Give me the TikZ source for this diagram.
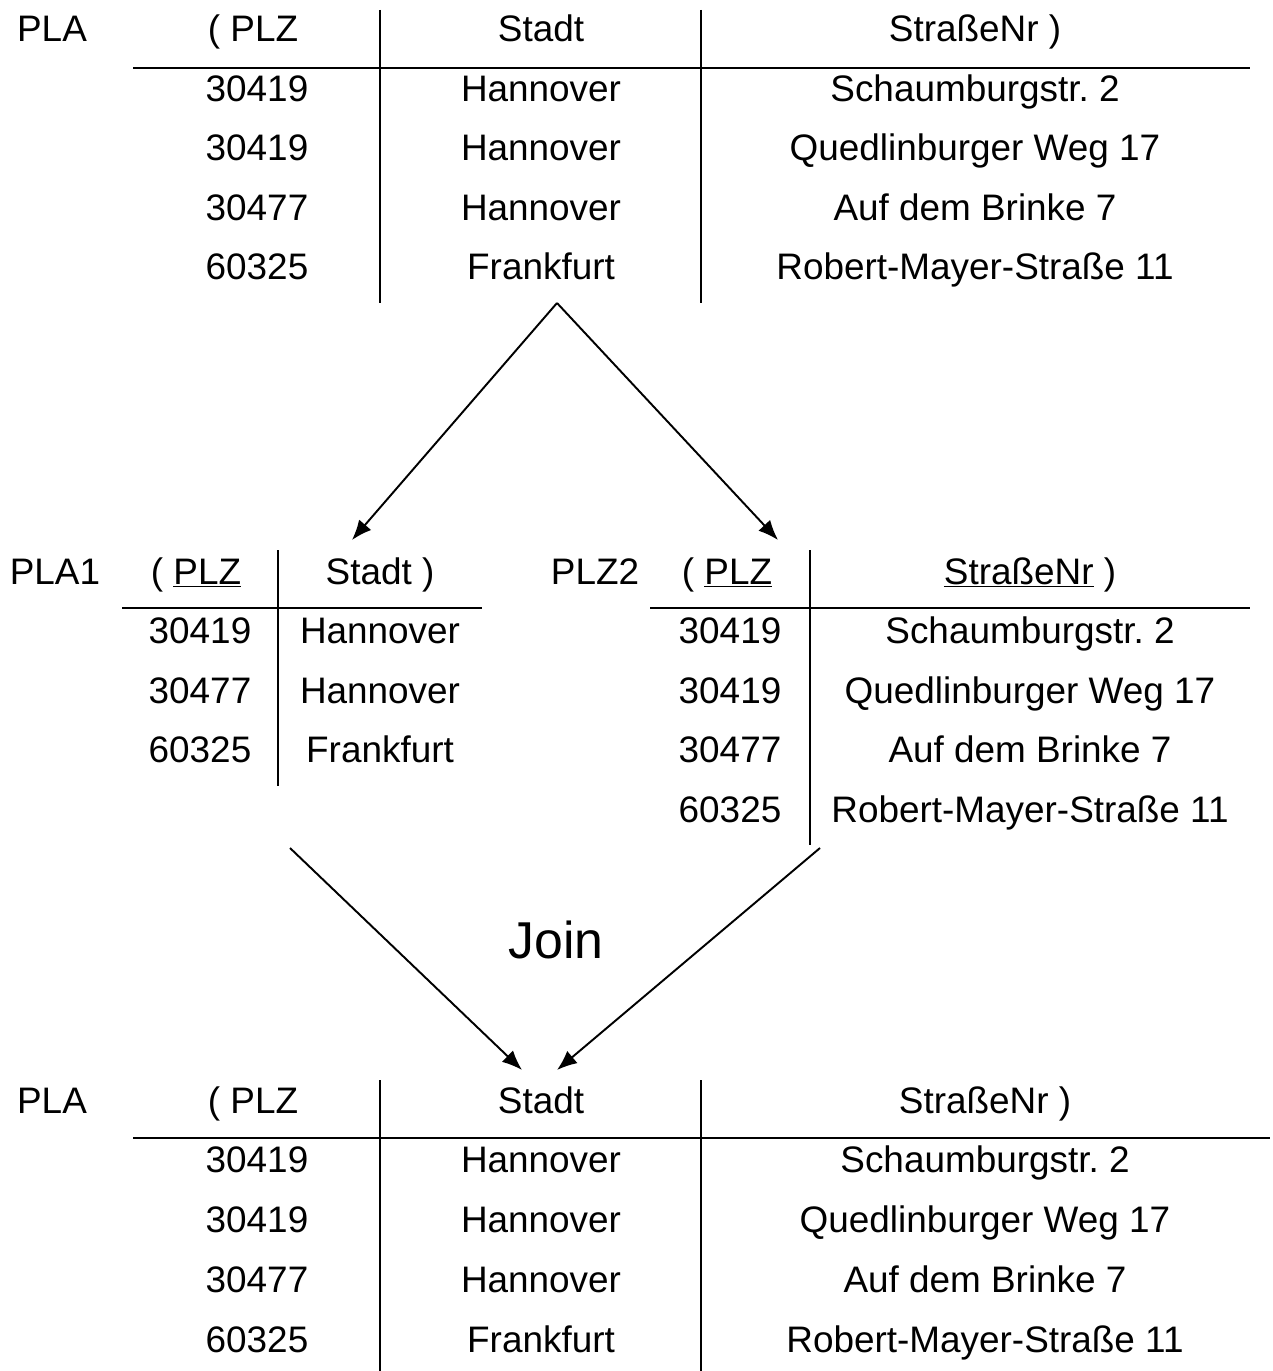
\documentclass[tikz,border=0pt]{standalone}
\usepackage{fontspec}
\setmainfont{Liberation Sans}
\frenchspacing
\usetikzlibrary{arrows.meta,positioning}
\tikzset{cell node/.style={inner sep=0pt, anchor=base, font=\fontsize{21}{25}\selectfont}}
\tikzset{join node/.style={cell node, font=\fontsize{29.5}{34}\selectfont}}
\tikzset{rule line/.style={draw=black, line width=1.2pt}}
\tikzset{flow edge/.style={draw=black, line width=1.1pt, -{Latex[length=4mm,width=3.2mm]}}}

\begin{document}
\begin{tikzpicture}[x=0.02cm, y=-0.02cm]
  \useasboundingbox (0,0) rectangle (1272,1371);

  % Relation PLA (oben)
  \node [cell node] (plaTop)   at (52,42)  {PLA};
  \node [cell node] (topHead1) at (253,42) {( PLZ};
  \node [cell node] (topHead2) at (541,42) {Stadt};
  \node [cell node] (topHead3) at (975,42) {StraßeNr )};
  \foreach \plz/\stadt/\strasse [count=\i] in {30419/Hannover/Schaumburgstr. 2,
      30419/Hannover/Quedlinburger Weg 17, 30477/Hannover/Auf dem Brinke 7,
      60325/Frankfurt/Robert-Mayer-Straße 11} {
    \node [cell node] (top\i a) at (257,{42+59.5*\i}) {\plz};
    \node [cell node] (top\i b) at (541,{42+59.5*\i}) {\stadt};
    \node [cell node] (top\i c) at (975,{42+59.5*\i}) {\strasse};
  }
  \draw [rule line] (133,68) -- (1250,68);
  \draw [rule line] (380,10) -- (380,303);
  \draw [rule line] (701,10) -- (701,303);

  % Zerlegung
  \coordinate (split)  at (557,303);
  \coordinate (pla1In) at (352,540);
  \coordinate (plz2In) at (778,540);
  \draw [flow edge] (split) -- (pla1In);
  \draw [flow edge] (split) -- (plz2In);

  % Relation PLA1
  \node [cell node] (pla1)     at (55,584)  {PLA1};
  \node [cell node] (pla1Head1) at (196,584) {( \underline{PLZ}};
  \node [cell node] (pla1Head2) at (380,584) {Stadt )};
  \foreach \plz/\stadt [count=\i] in {30419/Hannover, 30477/Hannover, 60325/Frankfurt} {
    \node [cell node] (pla1\i a) at (200,{584+59.5*\i}) {\plz};
    \node [cell node] (pla1\i b) at (380,{584+59.5*\i}) {\stadt};
  }
  \draw [rule line] (122,608) -- (482,608);
  \draw [rule line] (278,550) -- (278,786);

  % Relation PLZ2
  \node [cell node] (plz2)      at (595,584)  {PLZ2};
  \node [cell node] (plz2Head1) at (727,584)  {( \underline{PLZ}};
  \node [cell node] (plz2Head2) at (1030,584) {\underline{StraßeNr} )};
  \foreach \plz/\strasse [count=\i] in {30419/Schaumburgstr. 2,
      30419/Quedlinburger Weg 17, 30477/Auf dem Brinke 7,
      60325/Robert-Mayer-Straße 11} {
    \node [cell node] (plz2\i a) at (730,{584+59.5*\i})  {\plz};
    \node [cell node] (plz2\i b) at (1030,{584+59.5*\i}) {\strasse};
  }
  \draw [rule line] (650,608) -- (1250,608);
  \draw [rule line] (810,550) -- (810,845);

  % Verbund
  \coordinate (pla1Out) at (290,848);
  \coordinate (plz2Out) at (820,848);
  \coordinate (joinIn1) at (522,1070);
  \coordinate (joinIn2) at (557,1070);
  \draw [flow edge] (pla1Out) -- (joinIn1);
  \draw [flow edge] (plz2Out) -- (joinIn2);
  \node [join node] (join) at (556,958) {Join};

  % Relation PLA (unten)
  \node [cell node] (plaBot)   at (52,1113)  {PLA};
  \node [cell node] (botHead1) at (253,1113) {( PLZ};
  \node [cell node] (botHead2) at (541,1113) {Stadt};
  \node [cell node] (botHead3) at (985,1113) {StraßeNr )};
  \foreach \plz/\stadt/\strasse [count=\i] in {30419/Hannover/Schaumburgstr. 2,
      30419/Hannover/Quedlinburger Weg 17, 30477/Hannover/Auf dem Brinke 7,
      60325/Frankfurt/Robert-Mayer-Straße 11} {
    \node [cell node] (bot\i a) at (257,{1113+59.8*\i}) {\plz};
    \node [cell node] (bot\i b) at (541,{1113+59.8*\i}) {\stadt};
    \node [cell node] (bot\i c) at (985,{1113+59.8*\i}) {\strasse};
  }
  \draw [rule line] (133,1138) -- (1270,1138);
  \draw [rule line] (380,1080) -- (380,1371);
  \draw [rule line] (701,1080) -- (701,1371);
\end{tikzpicture}
\end{document}
